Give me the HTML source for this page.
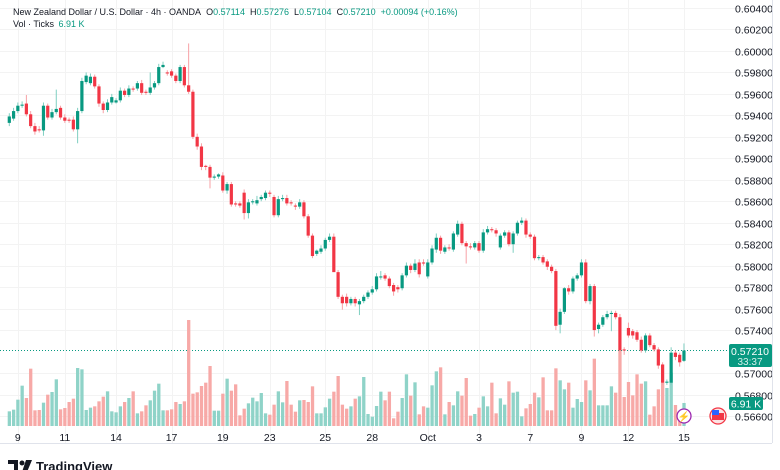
<!DOCTYPE html>
<html><head><meta charset="utf-8"><style>
html,body{margin:0;padding:0;background:#fff;width:780px;height:470px;overflow:hidden;font-family:"Liberation Sans",sans-serif}
svg{display:block}
</style></head><body>
<svg id="chart" width="780" height="470" viewBox="0 0 780 470" xmlns="http://www.w3.org/2000/svg" font-family="Liberation Sans, sans-serif">
<g id="grid"></g>
<g id="vol"></g>
<g id="candles"></g>
<g id="yaxis"></g>
<g id="xaxis"></g>
<line x1="0" y1="443.5" x2="772" y2="443.5" stroke="#e0e3eb"/>
<line x1="772.5" y1="0" x2="772.5" y2="443" stroke="#e0e3eb"/>
<g font-size="9">
<text x="13" y="15" fill="#131722">New Zealand Dollar / U.S. Dollar · 4h · OANDA<tspan dx="5" fill="#131722">O</tspan><tspan fill="#089981">0.57114</tspan><tspan dx="5" fill="#131722">H</tspan><tspan fill="#089981">0.57276</tspan><tspan dx="5" fill="#131722">L</tspan><tspan fill="#089981">0.57104</tspan><tspan dx="5" fill="#131722">C</tspan><tspan fill="#089981">0.57210</tspan><tspan dx="5" fill="#089981">+0.00094 (+0.16%)</tspan></text>
<text x="13" y="27" fill="#131722">Vol · Ticks <tspan dx="2" fill="#089981">6.91 K</tspan></text>
</g>
<g>
<rect x="729" y="344" width="43" height="23" rx="2" fill="#089981"/>
<text x="750" y="355" font-size="10.5" fill="#fff" text-anchor="middle">0.57210</text>
<text x="750" y="365" font-size="10" fill="#d4f0ea" text-anchor="middle">33:37</text>
</g>
<g>
<rect x="729" y="397" width="34" height="13" rx="2" fill="#089981"/>
<text x="746" y="407.5" font-size="10.5" fill="#fff" text-anchor="middle">6.91 K</text>
</g>
<g>
<circle cx="684" cy="416" r="7" fill="#fff" stroke="#9c27b0" stroke-width="1.3"/>
<text x="684" y="420" font-size="10" fill="#9c27b0" text-anchor="middle">⚡</text>
</g>
<g>
<circle cx="718" cy="416" r="8" fill="#fce4e4" stroke="#f23645" stroke-width="1.3"/>
<rect x="712" y="413" width="12" height="7" fill="#f23645"/>
<rect x="712" y="410" width="7" height="5" fill="#2962ff"/>
</g>
<g>
<path d="M8 460 h10 v12 h-4 v-8 h-6z" fill="#131722"/>
<circle cx="22" cy="463" r="2.5" fill="#131722"/>
<path d="M26 460 h6 l-5 12 h-5z" fill="#131722"/>
<text x="36" y="471" font-size="13" font-weight="bold" fill="#131722">TradingView</text>
</g>
</svg>
<script>
const opens=[.5933,.5937,.5944,.5949,.5951,.5941,.5930,.5927,.5926,.5949,.5938,.5943,.5947,.5938,.5936,.5936,.5927,.5944,.5971,.5970,.5976,.5967,.5951,.5945,.5952,.5952,.5954,.5963,.5959,.5965,.5965,.5970,.5962,.5961,.5966,.5970,.5985,.5980,.5981,.5977,.5972,.5985,.5968,.5962,.5920,.5911,.5893,.5892,.5882,.5883,.5884,.5870,.5876,.5858,.5858,.5868,.5849,.5859,.5858,.5862,.5863,.5868,.5864,.5847,.5862,.5863,.5859,.5856,.5855,.5859,.5846,.5828,.5811,.5813,.5816,.5824,.5827,.5794,.5771,.5771,.5765,.5769,.5764,.5767,.5771,.5775,.5778,.5789,.5791,.5788,.5782,.5780,.5779,.5791,.5800,.5796,.5803,.5803,.5790,.5803,.5815,.5826,.5813,.5817,.5815,.5829,.5839,.5821,.5818,.5817,.5821,.5814,.5831,.5834,.5833,.5817,.5828,.5831,.5820,.5830,.5840,.5842,.5829,.5827,.5807,.5808,.5804,.5799,.5795,.5745,.5757,.5779,.5776,.5788,.5791,.5803,.5767,.5781,.5741,.5745,.5752,.5755,.5756,.5752,.5722,.5742,.5739,.5738,.5731,.5721,.5735,.5726,.5722,.5708,.5691,.5691,.5719,.5717,.57114];
const closes=[.5939,.5944,.5949,.5950,.5941,.5930,.5925,.5926,.5949,.5938,.5943,.5946,.5938,.5935,.5935,.5927,.5944,.5972,.5977,.5976,.5967,.5951,.5945,.5952,.5957,.5954,.5963,.5959,.5965,.5964,.5970,.5961,.5961,.5966,.5970,.5985,.5987,.5979,.5977,.5972,.5985,.5968,.5962,.5920,.5911,.5892,.5892,.5882,.5883,.5885,.5870,.5876,.5857,.5857,.5856,.5849,.5859,.5860,.5861,.5864,.5868,.5867,.5847,.5862,.5863,.5858,.5858,.5855,.5859,.5846,.5828,.5809,.5814,.5816,.5824,.5827,.5794,.5771,.5765,.5765,.5769,.5765,.5767,.5771,.5775,.5778,.5790,.5790,.5788,.5781,.5776,.5778,.5791,.5800,.5796,.5802,.5792,.5802,.5803,.5816,.5826,.5814,.5817,.5816,.5830,.5839,.5821,.5818,.5817,.5821,.5814,.5831,.5834,.5833,.5830,.5828,.5831,.5820,.5830,.5840,.5842,.5829,.5827,.5807,.5808,.5803,.5799,.5795,.5744,.5757,.5779,.5776,.5788,.5791,.5803,.5767,.5781,.5740,.5745,.5752,.5755,.5756,.5752,.5721,.5721,.5735,.5735,.5731,.5721,.5735,.5726,.5722,.5707,.5691,.5692,.5719,.5715,.5710,.57210];
const highs=[.5942,.5947,.5952,.5953,.5959,.5944,.5933,.5930,.5952,.5951,.5946,.5964,.5949,.5941,.5938,.5939,.5947,.5975,.5980,.5979,.5978,.5969,.5953,.5955,.5960,.5956,.5966,.5965,.5968,.5967,.5972,.5973,.5964,.5980,.5972,.5988,.5990,.5982,.5983,.5979,.5987,.5987,.6007,.5964,.5923,.5914,.5894,.5894,.5885,.5886,.5887,.5878,.5878,.5860,.5860,.5871,.5862,.5862,.5865,.5866,.5870,.5870,.5866,.5865,.5866,.5866,.5861,.5858,.5862,.5861,.5848,.5830,.5815,.5819,.5826,.5830,.5830,.5796,.5773,.5774,.5771,.5771,.5769,.5773,.5777,.5781,.5793,.5795,.5793,.5790,.5784,.5782,.5793,.5803,.5802,.5806,.5806,.5806,.5806,.5819,.5830,.5828,.5819,.5820,.5832,.5842,.5841,.5823,.5821,.5823,.5823,.5834,.5837,.5836,.5835,.5830,.5833,.5833,.5832,.5842,.5845,.5844,.5831,.5829,.5810,.5810,.5806,.5801,.5797,.5760,.5780,.5782,.5790,.5793,.5806,.5806,.5783,.5783,.5747,.5754,.5758,.5758,.5758,.5755,.5724,.5747,.5741,.5740,.5734,.5737,.5737,.5728,.5724,.5710,.5694,.5724,.5721,.5719,.57276];
const lows=[.5930,.5935,.5942,.5947,.5939,.5928,.5922,.5924,.5921,.5936,.5936,.5941,.5936,.5933,.5933,.5925,.5914,.5942,.5969,.5968,.5965,.5948,.5942,.5943,.5950,.5951,.5952,.5957,.5957,.5962,.5963,.5959,.5959,.5959,.5964,.5968,.5984,.5977,.5975,.5970,.5970,.5966,.5960,.5918,.5908,.5889,.5889,.5872,.5880,.5881,.5868,.5867,.5855,.5855,.5854,.5843,.5844,.5857,.5856,.5860,.5861,.5864,.5845,.5845,.5860,.5856,.5856,.5852,.5853,.5844,.5826,.5807,.5809,.5811,.5814,.5822,.5825,.5769,.5759,.5762,.5763,.5762,.5754,.5765,.5769,.5773,.5776,.5787,.5786,.5779,.5772,.5775,.5777,.5789,.5793,.5794,.5789,.5800,.5788,.5801,.5812,.5811,.5811,.5814,.5813,.5827,.5819,.5802,.5815,.5815,.5812,.5812,.5829,.5831,.5827,.5815,.5826,.5818,.5812,.5828,.5838,.5826,.5825,.5805,.5805,.5801,.5796,.5793,.5740,.5737,.5755,.5773,.5774,.5786,.5789,.5765,.5764,.5734,.5737,.5743,.5750,.5739,.5750,.5719,.5717,.5733,.5732,.5729,.5719,.5719,.5724,.5720,.5704,.5689,.5689,.5689,.5712,.5706,.57104];
const volumes=[4.4,4.9,7.9,12.1,8.4,17.2,4.7,4.8,7.0,9.4,10.2,14.0,5.0,5.4,7.2,8.2,17.4,17.0,4.8,5.5,5.9,7.4,8.8,10.4,4.4,4.1,5.9,7.2,8.4,10.4,3.8,4.4,6.2,7.7,10.6,12.7,4.7,4.7,5.0,7.2,6.6,7.4,31.8,9.7,10.1,12.0,13.0,18.0,4.6,4.6,9.7,14.2,10.6,12.5,3.2,5.2,6.8,8.5,7.4,9.9,3.8,3.4,6.4,10.4,7.1,13.5,6.4,4.3,7.7,7.8,7.2,11.9,3.8,3.8,5.6,8.2,10.3,15.0,6.4,5.2,5.9,8.2,8.9,14.7,3.6,2.8,6.0,10.3,7.7,10.3,2.3,4.3,8.4,15.5,9.1,13.1,3.5,5.9,5.5,12.2,16.4,17.6,3.5,7.2,6.2,10.4,9.1,14.4,3.1,3.6,5.5,8.9,5.9,13.0,3.8,8.3,6.4,13.4,10.0,10.3,2.9,5.3,6.6,10.0,8.6,14.6,4.7,4.7,17.3,13.7,11.0,13.0,5.5,8.1,7.2,13.7,10.7,20.2,6.2,6.2,6.2,11.9,10.0,22.5,8.7,13.2,9.2,15.5,12.7,13.4,3.4,5.9,11.0,13.0,11.4,16.0,6.3,3.2,6.91];
const priceTicks=["0.60400","0.60200","0.60000","0.59800","0.59600","0.59400","0.59200","0.59000","0.58800","0.58600","0.58400","0.58200","0.58000","0.57800","0.57600","0.57400","0.57000","0.56800","0.56600"];
const timeLabels=["9","11","14","17","19","23","25","28","Oct","3","7","9","12","15"];
const timeLabelIndex=[3,14,26,39,51,62,75,86,99,111,123,135,146,159];
const lastPrice=0.57210;

const NS="http://www.w3.org/2000/svg";
function yP(p){return 8+(0.604-p)/0.038*408;}
function xI(i){return 9.3+i*4.27;}
function yV(v){return 426-v/0.3;}
function mk(tag,attrs,parent){const e=document.createElementNS(NS,tag);for(const k in attrs)e.setAttribute(k,attrs[k]);parent.appendChild(e);return e;}
const grid=document.getElementById('grid'),vol=document.getElementById('vol'),cg=document.getElementById('candles'),ya=document.getElementById('yaxis'),xa=document.getElementById('xaxis');
priceTicks.forEach(t=>{
  const y=Math.round(yP(parseFloat(t)))+0.5;
  const g=mk('line',{x1:0,x2:772,y1:y,y2:y,stroke:'#f3f3f3'},grid);
  
  
  const tx=mk('text',{x:735,y:y+4,'font-size':'10.5',fill:'#131722'},ya);
  tx.textContent=t;
  
  
});
timeLabels.forEach((t,k)=>{
  const x=xI(timeLabelIndex[k]-1);
  const g=mk('line',{x1:Math.round(x)+0.5,x2:Math.round(x)+0.5,y1:0,y2:443,stroke:'#f3f3f3'},grid);
  
  
  const tx=mk('text',{x:x,y:441,'font-size':'10.5',fill:'#131722','text-anchor':'middle'},xa);
  tx.textContent=t;
  
  
});
volumes.forEach((v,i)=>{
  const up=closes[i]>=opens[i];
  const y=yV(v);
  const r=mk('rect',{x:xI(i)-1.6,y:y,width:3.3,height:426-y,fill:up?'#8fd3c8':'#f7a9a7'},vol);
  
  
});
const pl=mk('line',{x1:0,x2:729,y1:yP(lastPrice),y2:yP(lastPrice),stroke:'#089981','stroke-dasharray':'1 2','stroke-width':1},grid);


opens.forEach((o,i)=>{
  const c=closes[i],up=c>=o,col=up?'#089981':'#f23645',x=xI(i);
  const w=mk('line',{x1:x,x2:x,y1:yP(highs[i]),y2:yP(lows[i]),stroke:up?'#7fcfc1':'#f7a1a6','stroke-width':1},cg);
  
  
  const top=yP(Math.max(o,c)),bot=yP(Math.min(o,c));
  const b=mk('rect',{x:x-1.6,y:top,width:3.2,height:Math.max(1,bot-top),fill:col},cg);
  
  
});
</script>
</body></html>
